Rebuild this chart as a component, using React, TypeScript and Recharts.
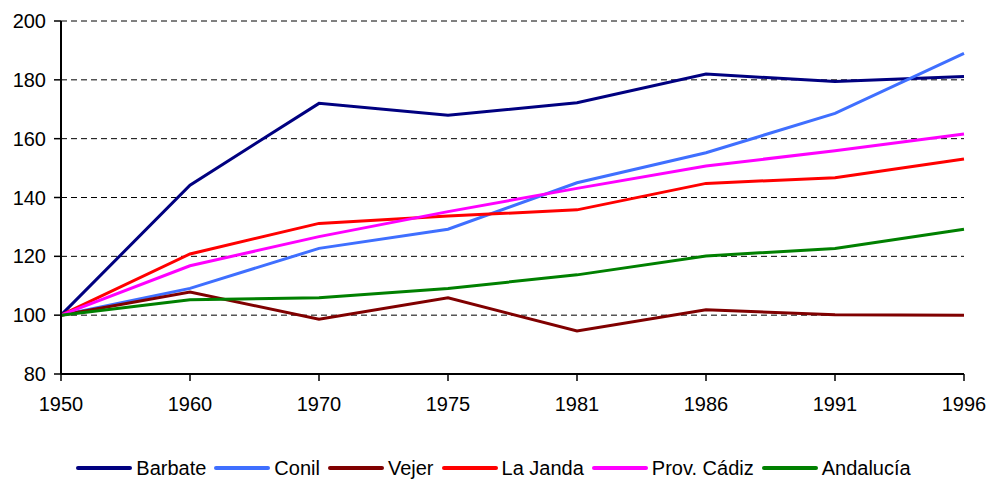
import { CartesianGrid, Legend, Line, LineChart, XAxis, YAxis } from "recharts";

const years = ["1950", "1960", "1970", "1975", "1981", "1986", "1991", "1996"];
const barbate = [100, 144.2, 172.0, 168.0, 172.2, 182.0, 179.4, 181.1];
const conil = [100, 109.1, 122.7, 129.2, 145.0, 155.2, 168.6, 189.0];
const vejer = [100, 107.9, 98.6, 105.9, 94.6, 101.8, 100.1, 100];
const laJanda = [100, 120.8, 131.2, 133.7, 135.8, 144.8, 146.7, 153.1];
const provCadiz = [100, 116.8, 126.7, 135.2, 143.1, 150.7, 155.9, 161.6];
const andalucia = [100, 105.2, 105.9, 109.1, 113.7, 120.1, 122.7, 129.2];
const yTicks = [80, 100, 120, 140, 160, 180, 200];

const series = [
  { key: "barbate", name: "Barbate", color: "#000080", values: barbate },
  { key: "conil", name: "Conil", color: "#3f6fff", values: conil },
  { key: "vejer", name: "Vejer", color: "#800000", values: vejer },
  { key: "laJanda", name: "La Janda", color: "#ff0000", values: laJanda },
  { key: "provCadiz", name: "Prov. Cádiz", color: "#ff00ff", values: provCadiz },
  { key: "andalucia", name: "Andalucía", color: "#008000", values: andalucia },
];

const data = years.map((year, i) => {
  const row: Record<string, string | number> = { year };
  series.forEach((s) => {
    row[s.key] = s.values[i];
  });
  return row;
});

const FONT = '"Liberation Sans", Arial, sans-serif';

// keep the legend in series order (recharts sorts by name otherwise)
const seriesOrder = (entry: any) => series.findIndex((s) => s.name === entry.value);

function LegendContent(props: any) {
  const payload = [...(props.payload ?? [])].sort((a, b) => seriesOrder(a) - seriesOrder(b));
  return (
    <div
      style={{
        height: 46,
        boxSizing: "border-box",
        paddingTop: 22,
        display: "flex",
        justifyContent: "center",
        alignItems: "center",
        fontFamily: FONT,
        fontSize: 20,
        color: "#000",
        lineHeight: "23px",
      }}
    >
      {payload.map((entry: any) => (
        <div key={entry.value} style={{ display: "flex", alignItems: "center", marginRight: 8 }}>
          <svg width={56} height={6} style={{ marginRight: 4 }}>
            <line x1={2} y1={3} x2={54} y2={3} stroke={entry.color} strokeWidth={4} strokeLinecap="round" />
          </svg>
          <span>{entry.value}</span>
        </div>
      ))}
    </div>
  );
}

export default function App() {
  return (
    <div style={{ width: 989, height: 480, background: "#fff" }}>
      <style>{"body{margin:0}"}</style>
      <LineChart width={989} height={480} data={data} margin={{ top: 21, right: 25, left: 0, bottom: 0 }}>
        <CartesianGrid vertical={false} stroke="#000" strokeDasharray="6 4" />
        <XAxis
          dataKey="year"
          height={60}
          tick={{ fill: "#000", fontSize: 20, fontFamily: FONT }}
          tickSize={7}
          tickMargin={16}
          axisLine={{ stroke: "#000", strokeWidth: 2 }}
          tickLine={{ stroke: "#000", strokeWidth: 1.5 }}
          interval={0}
        />
        <YAxis
          width={61}
          domain={[80, 200]}
          ticks={yTicks}
          tick={{ fill: "#000", fontSize: 20, fontFamily: FONT }}
          tickSize={7}
          tickMargin={8}
          axisLine={{ stroke: "#000", strokeWidth: 2 }}
          tickLine={{ stroke: "#000", strokeWidth: 1.5 }}
          interval={0}
        />
        <Legend
          verticalAlign="bottom"
          height={46}
          wrapperStyle={{ left: 0, width: 995 }}
          content={<LegendContent />}
        />
        {series.map((s) => (
          <Line
            key={s.key}
            type="linear"
            dataKey={s.key}
            name={s.name}
            stroke={s.color}
            strokeWidth={3}
            dot={false}
            activeDot={false}
            isAnimationActive={false}
          />
        ))}
      </LineChart>
    </div>
  );
}
